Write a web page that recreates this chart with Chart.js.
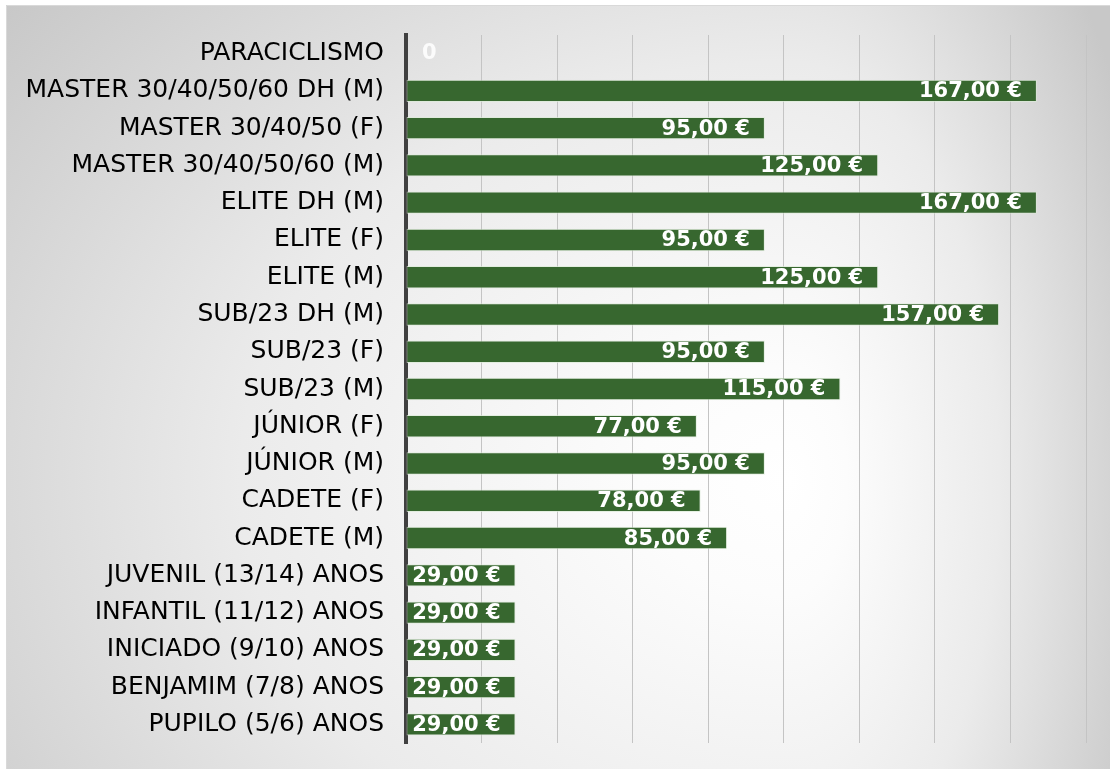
<!DOCTYPE html>
<html>
<head>
<meta charset="utf-8">
<script src="https://cdn.jsdelivr.net/npm/chart.js@4"></script>
<style>
  html, body { margin: 0; padding: 0; background: #fff; }
  #wrap { width: 1110px; height: 769px; position: relative; }
</style>
</head>
<body>
<div id="wrap"><canvas id="barChart"></canvas></div>
<script>
// categorias e preços
const categorias = [
  'PARACICLISMO', 'MASTER 30/40/50/60 DH (M)', 'MASTER 30/40/50 (F)', 'MASTER 30/40/50/60 (M)',
  'ELITE DH (M)', 'ELITE (F)', 'ELITE (M)', 'SUB/23 DH (M)', 'SUB/23 (F)', 'SUB/23 (M)',
  'JÚNIOR (F)', 'JÚNIOR (M)', 'CADETE (F)', 'CADETE (M)',
  'JUVENIL (13/14) ANOS', 'INFANTIL (11/12) ANOS', 'INICIADO (9/10) ANOS',
  'BENJAMIM (7/8) ANOS', 'PUPILO (5/6) ANOS'
];
const precos = [0, 167, 95, 125, 167, 95, 125, 157, 95, 115, 77, 95, 78, 85, 29, 29, 29, 29, 29];
const eixoMax = 180;
const eixoPasso = 20;

function formatEuro(v){
  return v.toFixed(2).replace('.', ',') + ' €';
}

// fundo com gradiente (mais claro ao centro-direita) e moldura
const fundo = {
  id: 'fundo',
  beforeDraw(chart){
    const ctx = chart.ctx;
    const x0 = 6, y0 = 5, x1 = 1110, y1 = 769;
    const cx = 790, cy = 480, ry = 760;
    const lados = [[x0, cx, 1000], [cx, x1, 380]];
    lados.forEach(([a, b, rx]) => {
      ctx.save();
      ctx.beginPath();
      ctx.rect(a, y0, b - a, y1 - y0);
      ctx.clip();
      ctx.translate(cx, cy);
      ctx.scale(rx / ry, 1);
      const g = ctx.createRadialGradient(0, 0, 0, 0, 0, ry);
      g.addColorStop(0, '#ffffff');
      g.addColorStop(0.15, '#fcfcfc');
      g.addColorStop(0.55, '#ebebeb');
      g.addColorStop(1, '#c8c8c8');
      ctx.fillStyle = g;
      ctx.fillRect(-3000, -3000, 6000, 6000);
      ctx.restore();
    });
    ctx.save();
    ctx.strokeStyle = '#d9d9d9';
    ctx.lineWidth = 1;
    ctx.beginPath();
    ctx.moveTo(x0 + 0.5, y1);
    ctx.lineTo(x0 + 0.5, y0 + 0.5);
    ctx.lineTo(x1, y0 + 0.5);
    ctx.stroke();
    ctx.restore();
  }
};

// rótulos de valor dentro das barras
const rotulos = {
  id: 'rotulos',
  afterDatasetsDraw(chart){
    const ctx = chart.ctx;
    const meta = chart.getDatasetMeta(0);
    ctx.save();
    ctx.font = 'bold 21px "DejaVu Sans"';
    ctx.fillStyle = '#ffffff';
    ctx.textBaseline = 'middle';
    meta.data.forEach((bar, i) => {
      const v = precos[i];
      if (v === 0) {
        ctx.textAlign = 'left';
        ctx.globalAlpha = 0.85;
        ctx.fillText('0', bar.base + 16, bar.y);
        ctx.globalAlpha = 1;
      } else {
        ctx.textAlign = 'right';
        ctx.fillText(formatEuro(v), bar.x - 15, bar.y + 1);
      }
    });
    ctx.restore();
  }
};

const config = {
  type: 'bar',
  data: {
    labels: categorias,
    datasets: [{
      data: precos,
      backgroundColor: '#37672f',
      borderColor: 'rgba(220,235,215,0.7)',
      borderWidth: 1,
      borderSkipped: false,
      categoryPercentage: 1,
      barPercentage: 0.6
    }]
  },
  options: {
    indexAxis: 'y',
    responsive: true,
    maintainAspectRatio: false,
    animation: false,
    layout: { padding: { left: 0, right: 24, top: 35, bottom: 26 } },
    plugins: {
      legend: { display: false },
      tooltip: { enabled: false }
    },
    scales: {
      x: {
        min: 0,
        max: eixoMax,
        ticks: { display: false, stepSize: eixoPasso },
        grid: { color: '#c4c4c4', lineWidth: 1, drawTicks: false },
        border: { display: false },
        afterFit(scale){ scale.height = 0; }
      },
      y: {
        ticks: {
          color: '#000',
          padding: 0,
          font: { family: '"DejaVu Sans"', size: 25 }
        },
        grid: { display: true, drawOnChartArea: false, drawTicks: true, tickLength: 22, tickColor: 'rgba(0,0,0,0)' },
        border: { display: true, color: '#404040', width: 4 },
        afterFit(scale){ scale.width = 406; }
      }
    }
  },
  plugins: [fundo, rotulos]
};

const barChart = new Chart(document.getElementById('barChart').getContext('2d'), config);
</script>
</body>
</html>
